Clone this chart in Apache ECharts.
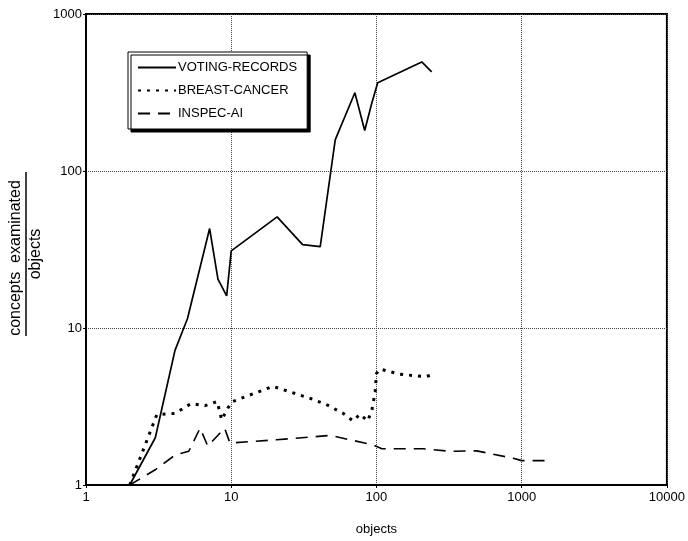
<!DOCTYPE html>
<html>
<head>
<meta charset="utf-8">
<title>concepts examinated / objects</title>
<script src="https://cdn.jsdelivr.net/npm/echarts@6/dist/echarts.min.js"></script>
<style>
  html, body { margin: 0; padding: 0; background: #fff; }
  #chart { width: 688px; height: 541px; }
</style>
</head>
<body>
<div id="chart"></div>
<script>
// data (log-log)
var seriesNames = ['VOTING-RECORDS', 'BREAST-CANCER', 'INSPEC-AI']

var votingX = [2, 3, 4.1, 5, 7.1, 8.1, 9.3, 10, 20.7, 31, 41, 52, 71, 83, 93, 102, 205, 240]
var votingY = [1, 2.0, 7.2, 11.5, 43, 20.5, 16, 31, 51, 34, 33, 158, 315, 181, 272, 365, 495, 428]

var breastX = [2, 3.07, 4.1, 5.3, 6.6, 8, 8.6, 9.5, 10.2, 19.4, 35, 45, 59, 69, 77, 87, 93, 98, 100, 106, 145, 216, 253]
var breastY = [1, 2.8, 2.86, 3.3, 3.2, 3.4, 2.6, 3.1, 3.4, 4.25, 3.56, 3.26, 2.86, 2.56, 2.82, 2.56, 3.0, 3.93, 5.13, 5.47, 5.08, 4.89, 5.08]

var inspecX = [2, 3, 4.1, 5.1, 6.1, 6.9, 9.0, 9.8, 20.5, 48, 95, 109, 145, 210, 321, 490, 875, 1000, 1524]
var inspecY = [1, 1.25, 1.55, 1.64, 2.3, 1.77, 2.3, 1.85, 1.94, 2.07, 1.8, 1.7, 1.7, 1.7, 1.64, 1.65, 1.48, 1.43, 1.43]

function pairs(xs, ys) {
  var out = []
  xs.forEach(function (x, i) {
    out.push([x, ys[i]])
  })
  return out
}

function plain(v) {
  return String(Math.round(v))
}

var font = 'Liberation Sans, Arial, Helvetica, sans-serif'
var chart = echarts.init(document.getElementById('chart'))

chart.setOption({
  animation: false,
  textStyle: { fontFamily: font, color: '#000' },
  grid: {
    left: 86,
    right: 21,
    top: 14,
    bottom: 54,
    show: true,
    borderColor: '#000',
    borderWidth: 2
  },
  legend: {
    orient: 'vertical',
    left: 128,
    top: 52,
    width: 182,
    padding: [9, 10, 9, 9],
    itemWidth: 38,
    itemHeight: 14,
    itemGap: 10,
    backgroundColor: '#fff',
    borderColor: '#000',
    borderWidth: 1,
    shadowColor: '#000',
    shadowBlur: 0,
    shadowOffsetX: 3,
    shadowOffsetY: 3,
    itemStyle: { opacity: 0 },
    textStyle: { fontFamily: font, fontSize: 13, color: '#000', padding: [0, 0, 0, -3] },
    data: seriesNames
  },
  xAxis: {
    type: 'log',
    logBase: 10,
    min: 1,
    max: 10000,
    name: 'objects',
    nameLocation: 'middle',
    nameGap: 38,
    nameTextStyle: { fontFamily: font, fontSize: 13, color: '#000' },
    axisLine: { lineStyle: { color: '#000', width: 2 } },
    axisTick: { show: true, inside: false, length: 3, lineStyle: { color: '#000' } },
    axisLabel: { fontFamily: font, fontSize: 13, color: '#000', margin: 6, formatter: plain },
    splitLine: { show: true, lineStyle: { color: '#444', type: 'dotted', width: 1 } }
  },
  yAxis: {
    type: 'log',
    logBase: 10,
    min: 1,
    max: 1000,
    axisLine: { lineStyle: { color: '#000', width: 2 } },
    axisTick: { show: true, inside: false, length: 3, lineStyle: { color: '#000' } },
    axisLabel: { fontFamily: font, fontSize: 13, color: '#000', margin: 4, formatter: plain },
    splitLine: { show: true, lineStyle: { color: '#444', type: 'dotted', width: 1 } }
  },
  graphic: [
    {
      type: 'text',
      x: 16,
      y: 258,
      rotation: Math.PI / 2,
      style: {
        text: 'concepts  examinated',
        font: '16px ' + font,
        fill: '#000',
        align: 'center',
        verticalAlign: 'middle'
      }
    },
    {
      type: 'line',
      shape: { x1: 26, y1: 172, x2: 26, y2: 336 },
      style: { stroke: '#000', lineWidth: 1.5 }
    },
    {
      type: 'text',
      x: 36,
      y: 254,
      rotation: Math.PI / 2,
      style: {
        text: 'objects',
        font: '16px ' + font,
        fill: '#000',
        align: 'center',
        verticalAlign: 'middle'
      }
    }
  ],
  series: [
    {
      name: seriesNames[0],
      type: 'line',
      symbol: 'none',
      data: pairs(votingX, votingY),
      lineStyle: { color: '#000', width: 1.7, type: 'solid' },
      itemStyle: { color: '#000' }
    },
    {
      name: seriesNames[1],
      type: 'line',
      symbol: 'none',
      data: pairs(breastX, breastY),
      lineStyle: { color: '#000', width: 3, type: [3, 6], cap: 'butt' },
      itemStyle: { color: '#000' }
    },
    {
      name: seriesNames[2],
      type: 'line',
      symbol: 'none',
      data: pairs(inspecX, inspecY),
      lineStyle: { color: '#000', width: 1.6, type: [12, 8] },
      itemStyle: { color: '#000' }
    }
  ]
})
</script>
</body>
</html>
